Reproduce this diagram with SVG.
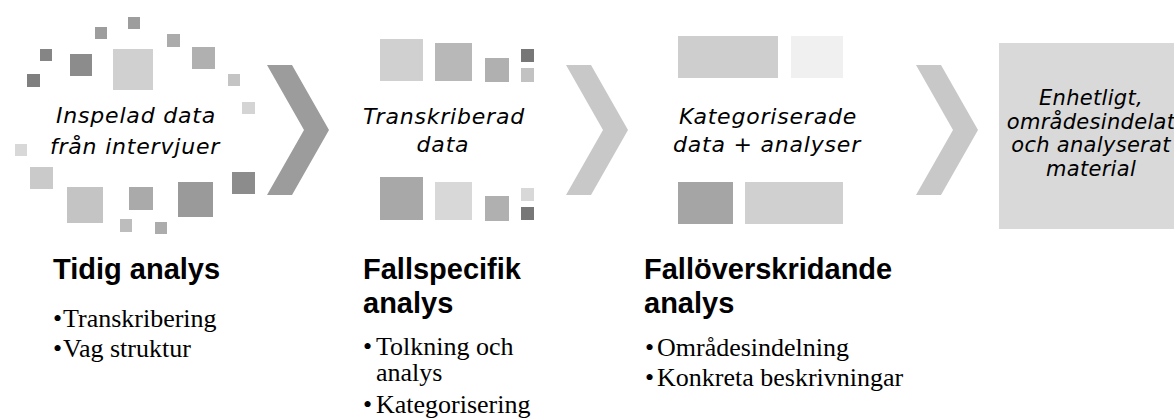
<svg xmlns="http://www.w3.org/2000/svg" width="1174" height="419" viewBox="0 0 1174 419">
<style>
.it{font-family:"DejaVu Sans",Verdana,sans-serif;font-style:italic;font-size:22px;letter-spacing:0.8px;fill:#000;text-anchor:middle}
.it.box{font-size:21px;letter-spacing:0.3px}
.hd{font-family:"Liberation Sans",Arial,sans-serif;font-weight:bold;font-size:29px;fill:#000}
.bl{font-family:"Liberation Serif","Times New Roman",serif;font-size:26px;fill:#000}
.chev-dark{fill:#9c9c9c}
.chev{fill:#c8c8c8}
</style>
<rect width="1174" height="419" fill="#ffffff"/>
<g id="stage1">
<rect x="128" y="17" width="12" height="12" fill="#9d9d9d"/>
<rect x="95" y="27" width="12" height="12" fill="#9d9d9d"/>
<rect x="40" y="49" width="12" height="12" fill="#858585"/>
<rect x="70" y="54" width="22" height="22" fill="#8c8c8c"/>
<rect x="113" y="49" width="40" height="41" fill="#d0d0d0"/>
<rect x="167" y="34" width="13" height="13" fill="#ababab"/>
<rect x="192" y="47" width="23" height="22" fill="#b0b0b0"/>
<rect x="27" y="74" width="13" height="13" fill="#7f7f7f"/>
<rect x="228" y="74" width="12" height="12" fill="#c4c4c4"/>
<rect x="242" y="102" width="13" height="12" fill="#d4d4d4"/>
<rect x="15" y="144" width="12" height="12" fill="#d8d8d8"/>
<rect x="30" y="167" width="23" height="22" fill="#cacaca"/>
<rect x="67" y="187" width="36" height="36" fill="#c4c4c4"/>
<rect x="129" y="187" width="24" height="23" fill="#aaaaaa"/>
<rect x="178" y="182" width="35" height="35" fill="#9a9a9a"/>
<rect x="232" y="172" width="23" height="22" fill="#8c8c8c"/>
<rect x="120" y="219" width="12" height="13" fill="#bdbdbd"/>
<rect x="155" y="222" width="12" height="12" fill="#acacac"/>
<text class="it" x="136" y="123">Inspelad data</text>
<text class="it" x="135" y="154">från intervjuer</text>
</g>
<g id="stage2">
<rect x="380" y="39" width="43" height="42" fill="#d0d0d0"/>
<rect x="435" y="43" width="37" height="38" fill="#b8b8b8"/>
<rect x="485" y="58" width="24" height="24" fill="#b0b0b0"/>
<rect x="521" y="49" width="13" height="13" fill="#777777"/>
<rect x="521" y="68" width="13" height="14" fill="#c2c2c2"/>
<rect x="380" y="177" width="43" height="43" fill="#a8a8a8"/>
<rect x="435" y="182" width="37" height="38" fill="#d8d8d8"/>
<rect x="485" y="196" width="24" height="25" fill="#b0b0b0"/>
<rect x="521" y="188" width="13" height="13" fill="#d8d8d8"/>
<rect x="521" y="207" width="13" height="13" fill="#777777"/>
<text class="it" x="444" y="124">Transkriberad</text>
<text class="it" x="443" y="152">data</text>
</g>
<g id="stage3">
<rect x="678" y="36" width="100" height="42" fill="#cecece"/>
<rect x="791" y="36" width="52" height="42" fill="#f0f0f0"/>
<rect x="678" y="182" width="55" height="42" fill="#a5a5a5"/>
<rect x="745" y="182" width="98" height="42" fill="#d0d0d0"/>
<text class="it" x="768" y="124">Kategoriserade</text>
<text class="it" x="767" y="152">data + analyser</text>
</g>
<g id="stage4">
<rect x="999" y="43" width="184" height="186" fill="#d9d9d9"/>
<text class="it box" x="1091" y="105">Enhetligt,</text>
<text class="it box" x="1091" y="129">områdesindelat</text>
<text class="it box" x="1091" y="152">och analyserat</text>
<text class="it box" x="1091" y="176">material</text>
</g>
<g id="connectors">
<polygon class="chev-dark" points="267,65 292,65 329,130 292,195 267,195 304,130"/>
<polygon class="chev" points="566,65 591,65 628,130 591,195 566,195 603,130"/>
<polygon class="chev" points="916,65 941,65 978,130 941,195 916,195 953,130"/>
</g>
<g id="label1">
<text class="hd" x="53" y="279">Tidig analys</text>
<text class="bl" x="53" y="327">•</text><text class="bl" x="63" y="327">Transkribering</text>
<text class="bl" x="53" y="357">•</text><text class="bl" x="63" y="357">Vag struktur</text>
</g>
<g id="label2">
<text class="hd" x="363" y="279">Fallspecifik</text>
<text class="hd" x="363" y="313">analys</text>
<text class="bl" x="363" y="355">•</text><text class="bl" x="376" y="355">Tolkning och</text>
<text class="bl" x="376" y="381">analys</text>
<text class="bl" x="363" y="413">•</text><text class="bl" x="376" y="413">Kategorisering</text>
</g>
<g id="label3">
<text class="hd" x="644" y="279">Fallöverskridande</text>
<text class="hd" x="644" y="313">analys</text>
<text class="bl" x="645" y="356">•</text><text class="bl" x="657" y="356">Områdesindelning</text>
<text class="bl" x="645" y="386">•</text><text class="bl" x="657" y="386">Konkreta beskrivningar</text>
</g>
</svg>
